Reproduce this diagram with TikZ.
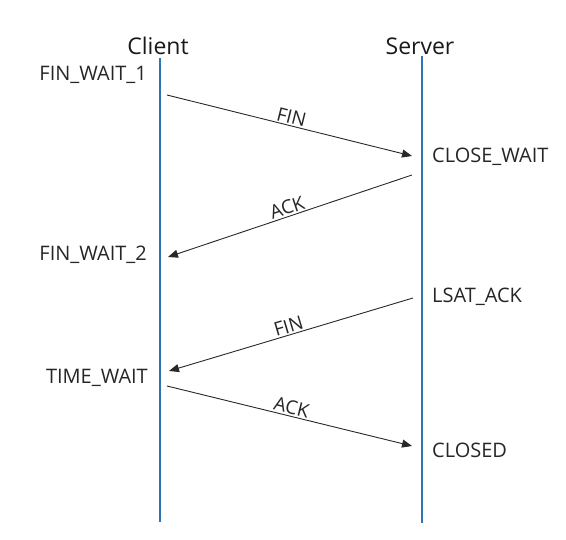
\documentclass[tikz,border=0pt]{standalone}
\usepackage{fontspec}
\setmainfont{Open Sans}
\usetikzlibrary{arrows.meta}
\definecolor{lifeblue}{RGB}{46,117,182}
\definecolor{msggray}{RGB}{40,40,40}
\tikzset{
  lifeline/.style={draw=lifeblue, line width=2pt},
  msg/.style={draw=msggray, line width=0.9pt, -{Triangle[length=10pt,width=8pt]}},
  statelbl/.style={font=\fontsize{20}{24}\selectfont, text=black!85, inner sep=0pt},
  headlbl/.style={font=\fontsize{23}{27}\selectfont, text=black!90, inner sep=0pt},
  msglbl/.style={font=\fontsize{19}{22}\selectfont, text=black!85, sloped, above, inner sep=1.5pt}
}
\begin{document}
\begin{tikzpicture}[x=1pt,y=-1pt]
\useasboundingbox (0,0) rectangle (566,540);
% heads
\node[headlbl] (client) at (158,46) {Client};
\node[headlbl] (server) at (420,46) {Server};
% lifelines
\coordinate (ctop) at (159.5,58);
\coordinate (cbot) at (159.5,522);
\coordinate (stop) at (422,56);
\coordinate (sbot) at (422,523);
\draw[lifeline] (ctop) -- (cbot);
\draw[lifeline] (stop) -- (sbot);
% states
\node[statelbl, anchor=east] (fw1) at (147,75) {FIN\_WAIT\_1};
\node[statelbl, anchor=west] (cw) at (432,157) {CLOSE\_WAIT};
\node[statelbl, anchor=east] (fw2) at (147,255) {FIN\_WAIT\_2};
\node[statelbl, anchor=west] (la) at (432,297) {LSAT\_ACK};
\node[statelbl, anchor=east] (tw) at (148,378) {TIME\_WAIT};
\node[statelbl, anchor=west] (cl) at (432,450) {CLOSED};
% message endpoints
\coordinate (a1s) at (167,95);
\coordinate (a1e) at (412,156);
\coordinate (a2s) at (412,175);
\coordinate (a2e) at (168,257);
\coordinate (a3s) at (413,298);
\coordinate (a3e) at (169,371);
\coordinate (a4s) at (167,386);
\coordinate (a4e) at (412,446);
% messages
\draw[msg] (a1s) -- node[msglbl] (m1) {FIN} (a1e);
\draw[msg] (a2s) -- node[msglbl] (m2) {ACK} (a2e);
\draw[msg] (a3s) -- node[msglbl] (m3) {FIN} (a3e);
\draw[msg] (a4s) -- node[msglbl] (m4) {ACK} (a4e);
\end{tikzpicture}
\end{document}
